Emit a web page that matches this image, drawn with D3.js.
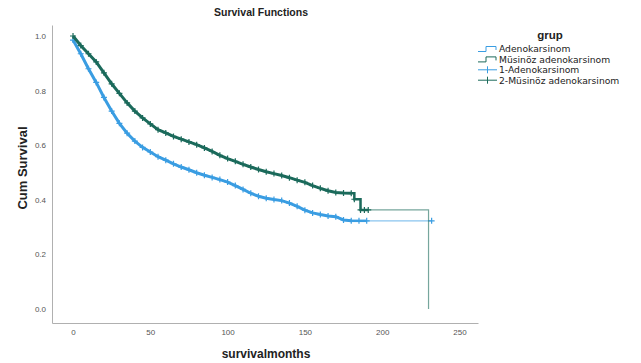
<!DOCTYPE html>
<html>
<head>
<meta charset="utf-8">
<script src="https://cdn.jsdelivr.net/npm/d3@7"></script>
<style>
  body { margin: 0; background: #fff; }
  svg { display: block; }
</style>
</head>
<body>
<svg id="chart" width="641" height="363"></svg>
<script>
// months at which the curves were read
var months = [0, 5, 10, 15, 20, 25, 30, 35, 40, 45, 50, 55, 60, 65, 70, 75, 80, 85, 90, 95,
  100, 105, 110, 115, 120, 125, 130, 135, 140, 145, 150, 155, 160, 165, 170, 175, 180];

var adenoSurv = [0.985, 0.935, 0.88, 0.83, 0.775, 0.725, 0.68, 0.644, 0.615, 0.592, 0.575,
  0.558, 0.545, 0.532, 0.52, 0.51, 0.499, 0.49, 0.482, 0.474, 0.465, 0.452, 0.438, 0.424,
  0.413, 0.406, 0.401, 0.397, 0.388, 0.376, 0.362, 0.352, 0.346, 0.341, 0.338, 0.326, 0.323];

var musinozSurv = [1.0, 0.965, 0.935, 0.905, 0.865, 0.825, 0.79, 0.755, 0.725, 0.70, 0.678,
  0.657, 0.645, 0.632, 0.622, 0.612, 0.602, 0.59, 0.577, 0.563, 0.551, 0.541, 0.53, 0.52,
  0.511, 0.503, 0.496, 0.489, 0.481, 0.472, 0.464, 0.452, 0.442, 0.433, 0.427, 0.425, 0.424];

// last steps, still censored densely
var adenoEnd = [{t: 180, s: 0.323}, {t: 185, s: 0.323}, {t: 190, s: 0.323}];
var musinozEnd = [{t: 180, s: 0.424}, {t: 182, s: 0.402}, {t: 186, s: 0.363}, {t: 188.5, s: 0.363}, {t: 191, s: 0.363}];

// thin tail after the last dense censor
var adenoTail = [{t: 190, s: 0.323}, {t: 232, s: 0.323}];
var musinozTail = [{t: 191, s: 0.363}, {t: 230, s: 0.363}, {t: 230, s: 0}];

var xTicks = [0, 50, 100, 150, 200, 250];
var yTicks = [0, 0.2, 0.4, 0.6, 0.8, 1.0];

var legendLabels = ["Adenokarsinom", "Müsinöz adenokarsinom", "1-Adenokarsinom", "2-Müsinöz adenokarsinom"];

var blue = "#3a9de2";
var green = "#1b6a5b";

var svg = d3.select("#chart");
var font = "'Liberation Sans', Arial, sans-serif";

var x = d3.scaleLinear().domain([-13.6, 262]).range([52, 478]);
var y = d3.scaleLinear().domain([-0.0513, 1.0403]).range([323, 25]);

// axes, no tick marks
var xAxis = svg.append("g")
  .attr("transform", "translate(0,323)")
  .call(d3.axisBottom(x).tickValues(xTicks).tickSize(0).tickPadding(6).tickFormat(d3.format("d")));
var yAxis = svg.append("g")
  .attr("transform", "translate(52,0)")
  .call(d3.axisLeft(y).tickValues(yTicks).tickSize(0).tickPadding(6).tickFormat(d3.format(".1f")));

[xAxis, yAxis].forEach(function (a) {
  a.select(".domain").attr("stroke", "#b0b0b0");
  a.selectAll("text").attr("font-family", font).attr("font-size", 8).attr("fill", "#555");
});

var line = d3.line()
  .x(d => x(d.t))
  .y(d => y(d.s));

var stepLine = d3.line()
  .x(d => x(d.t))
  .y(d => y(d.s))
  .curve(d3.curveStepAfter);

function drawGroup(vals, end, tail, color) {
  var pts = months.map((m, i) => ({t: m, s: vals[i]}));

  svg.append("path")
    .datum(tail)
    .attr("fill", "none")
    .attr("stroke", color)
    .attr("stroke-opacity", 0.6)
    .attr("stroke-width", 1.2)
    .attr("d", stepLine);

  svg.append("path")
    .datum(pts)
    .attr("fill", "none")
    .attr("stroke", color)
    .attr("stroke-width", 3)
    .attr("d", line);

  svg.append("path")
    .datum(end)
    .attr("fill", "none")
    .attr("stroke", color)
    .attr("stroke-width", 2.5)
    .attr("d", stepLine);

  // censor marks
  var marks = pts.concat(end.slice(1), tail.slice(1).filter(d => d.s > 0 && d.t > 200 && color == blue));
  svg.append("g")
    .selectAll("path")
    .data(marks)
    .join("path")
    .attr("transform", d => `translate(${x(d.t)},${y(d.s)})`)
    .attr("d", "M-3,0H3M0,-3V3")
    .attr("stroke", color)
    .attr("stroke-width", 1.2);
}

drawGroup(adenoSurv, adenoEnd, adenoTail, blue);
drawGroup(musinozSurv, musinozEnd, musinozTail, green);

// titles
svg.append("text")
  .attr("x", 261).attr("y", 16)
  .attr("text-anchor", "middle")
  .attr("font-family", font).attr("font-size", 10.5).attr("font-weight", "bold")
  .attr("fill", "#222")
  .text("Survival Functions");

svg.append("text")
  .attr("x", 266).attr("y", 358)
  .attr("text-anchor", "middle")
  .attr("font-family", font).attr("font-size", 12).attr("font-weight", "bold")
  .attr("fill", "#222")
  .text("survivalmonths");

svg.append("text")
  .attr("transform", "translate(27,168) rotate(-90)")
  .attr("text-anchor", "middle")
  .attr("font-family", font).attr("font-size", 13).attr("font-weight", "bold")
  .attr("fill", "#222")
  .text("Cum Survival");

// legend
svg.append("text")
  .attr("x", 550).attr("y", 39)
  .attr("text-anchor", "middle")
  .attr("font-family", font).attr("font-size", 11.5).attr("font-weight", "bold")
  .attr("fill", "#222")
  .text("grup");

var lg = svg.append("g")
  .selectAll("g")
  .data(legendLabels)
  .join("g")
  .attr("transform", (d, i) => `translate(478,${49 + i * 10.4})`);

lg.append("path")
  .attr("fill", "none")
  .attr("stroke", (d, i) => i % 2 === 0 ? blue : green)
  .attr("stroke-width", 1)
  .attr("d", (d, i) => i < 2 ? "M0,2.5H8V-2.5H18V1" : "M0,0H19M9.5,-3.5V3.5");

lg.append("text")
  .attr("x", 21).attr("y", 3.3)
  .attr("font-family", "'DejaVu Sans', sans-serif").attr("font-size", 9.2)
  .attr("fill", "#222")
  .text(d => d);
</script>
</body>
</html>
